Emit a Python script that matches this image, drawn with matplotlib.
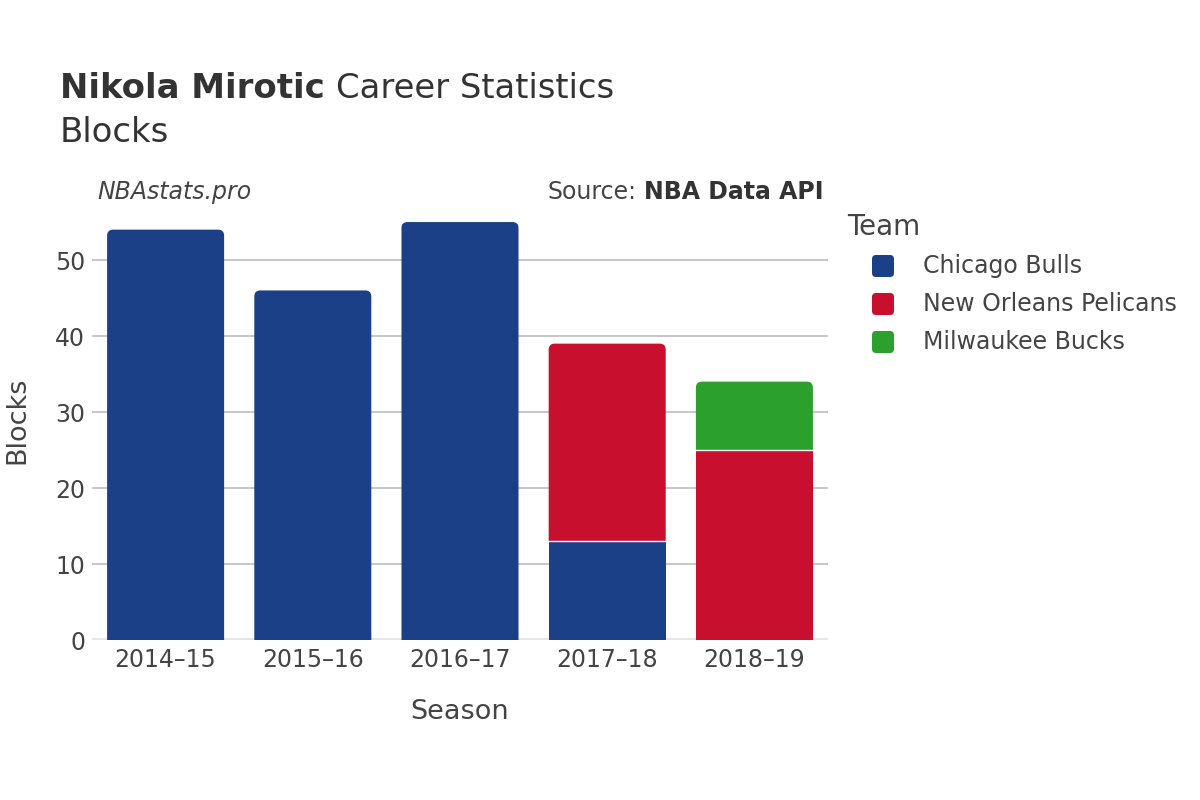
import numpy as np
import matplotlib.pyplot as plt
from matplotlib.patches import FancyBboxPatch, Rectangle, PathPatch
from matplotlib.path import Path

seasons = ['2014–15', '2015–16', '2016–17', '2017–18', '2018–19']
teams = ['Chicago Bulls', 'New Orleans Pelicans', 'Milwaukee Bucks']
colors = ['#1b4088', '#c8102e', '#2ca02c']
blocks = {
    'Chicago Bulls':        [54, 46, 55, 13, 0],
    'New Orleans Pelicans': [0, 0, 0, 26, 25],
    'Milwaukee Bucks':      [0, 0, 0, 0, 9],
}

W, H = 1200, 800
fig = plt.figure(figsize=(12, 8), dpi=100)
# plot area in pixels: x 92..828, y 200..640
L, R, T, B = 92, 828, 200, 640
ax = fig.add_axes([L / W, 1 - B / H, (R - L) / W, (B - T) / H])

x = np.arange(len(seasons))
bw = 0.795
ymax = 57.9
ax.set_xlim(-0.5, len(seasons) - 0.5)
ax.set_ylim(0, ymax)

# px per data unit
px_x = (R - L) / len(seasons)
px_y = (B - T) / ymax
rx = 6 / px_x
ry = 6 / px_y


def top_bar(x0, x1, b, top):
    # bar with rounded top corners only
    verts = [(x0, b), (x1, b), (x1, top - ry), (x1, top), (x1 - rx, top),
             (x0 + rx, top), (x0, top), (x0, top - ry), (x0, b)]
    codes = [Path.MOVETO, Path.LINETO, Path.LINETO, Path.CURVE3, Path.CURVE3,
             Path.LINETO, Path.CURVE3, Path.CURVE3, Path.CLOSEPOLY]
    return Path(verts, codes)


bottom = np.zeros(len(seasons))
tops = np.zeros(len(seasons))
for t in teams:
    tops += np.array(blocks[t])

for t, c in zip(teams, colors):
    vals = np.array(blocks[t], dtype=float)
    for i in range(len(seasons)):
        v = vals[i]
        if v <= 0:
            continue
        b = bottom[i]
        x0, x1 = x[i] - bw / 2, x[i] + bw / 2
        if abs(b + v - tops[i]) < 1e-9:
            ax.add_patch(PathPatch(top_bar(x0, x1, b, b + v), fc=c, ec='none', zorder=3))
        else:
            ax.add_patch(Rectangle((x0, b), bw, v, fc=c, ec='none', zorder=3))
        if b > 0:
            ax.plot([x0, x1], [b, b], color='white', lw=1, zorder=4)
    bottom += vals

ax.set_yticks([0, 10, 20, 30, 40, 50])
ax.set_xticks(x)
ax.set_xticklabels(seasons)
ax.tick_params(axis='both', length=0, labelsize=17, colors='#444444')
ax.tick_params(axis='y', pad=5)
ax.tick_params(axis='x', pad=6)
for s in ax.spines.values():
    s.set_visible(False)
ax.grid(axis='y', color='#bdbdbd', lw=1.2, zorder=0)
ax.set_axisbelow(True)
ax.axhline(0, color='#e6e6e6', lw=3, zorder=2)

fig.text(460 / W, 1 - 712 / H, 'Season', ha='center', va='center', fontsize=19.5, color='#444444')
fig.text(17 / W, 1 - 420 / H, 'Blocks', ha='center', va='center', rotation=90, fontsize=19.5, color='#444444')

# title
t1 = fig.text(60 / W, 1 - 89 / H, 'Nikola Mirotic', ha='left', va='center',
              fontsize=24.4, fontweight='bold', color='#333333')
fig.canvas.draw()
bb = t1.get_window_extent()
fig.text(bb.x1 / W + 11 / W, 1 - 89 / H, 'Career Statistics', ha='left', va='center',
         fontsize=24.4, color='#333333')
fig.text(60 / W, 1 - 132 / H, 'Blocks', ha='left', va='center', fontsize=24.4, color='#333333')

fig.text(97 / W, 1 - 192 / H, 'NBAstats.pro', ha='left', va='center', fontsize=17,
         style='italic', color='#444444')
s2 = fig.text(824 / W, 1 - 192 / H, 'NBA Data API', ha='right', va='center', fontsize=17,
              fontweight='bold', color='#333333')
fig.canvas.draw()
bb2 = s2.get_window_extent()
fig.text(bb2.x0 / W - 8 / W, 1 - 192 / H, 'Source:', ha='right', va='center', fontsize=17,
         color='#444444')

# legend
fig.text(847 / W, 1 - 227 / H, 'Team', ha='left', va='center', fontsize=20, color='#444444')
for i, (t, c) in enumerate(zip(teams, colors)):
    yc = 266 + 38 * i
    fig.patches.append(FancyBboxPatch((872 / W, 1 - (yc + 11) / H), 22 / W, 22 / H,
                                      boxstyle='round,pad=0,rounding_size=%f' % (4 / W),
                                      mutation_aspect=W / H,
                                      transform=fig.transFigure, fc=c, ec='none'))
    fig.text(923 / W, 1 - yc / H, t, ha='left', va='center', fontsize=17, color='#444444')

fig.savefig('out.png', dpi=100, facecolor='white')
